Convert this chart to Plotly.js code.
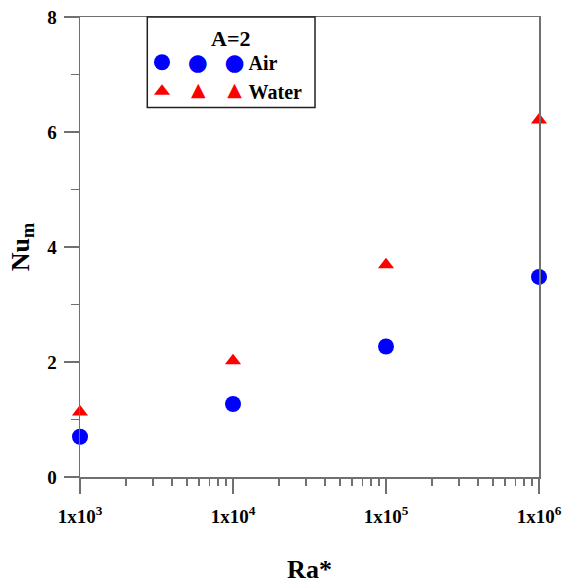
<!DOCTYPE html>
<html>
<head>
<meta charset="utf-8">
<script src="https://cdn.plot.ly/plotly-3.0.1.min.js"></script>
<style>
  html, body { margin: 0; padding: 0; background: #fff; }
  #chart { width: 565px; height: 588px; }
</style>
</head>
<body>
<div id="chart"></div>
<script>
// Modified Rayleigh number and mean Nusselt number, aspect ratio A=2
const raStar = [1e3, 1e4, 1e5, 1e6];
const numAir = [0.70, 1.27, 2.27, 3.48];
const numWater = [1.13, 2.02, 3.69, 6.21];
const xTickVals = [1e3, 1e4, 1e5, 1e6];
const xTickText = ['<b>1x10<sup>3</sup></b>', '<b>1x10<sup>4</sup></b>', '<b>1x10<sup>5</sup></b>', '<b>1x10<sup>6</sup></b>'];
const yTickVals = [0, 2, 4, 6, 8];
const yTickText = ['<b>0</b>', '<b>2</b>', '<b>4</b>', '<b>6</b>', '<b>8</b>'];

const serif = 'Liberation Serif';
const axisGray = '#707070';
const NB = '\u00a0', THIN = '\u2009', HAIR = '\u200a';

// legend rows repeat the symbol three times before the label
const glyph = (ch, color, size, extra) =>
  '<span style="color:' + color + ';font-family:DejaVu Sans;font-size:' + size + 'px' + (extra || '') + '">' + ch + '</span>';

const traces = [
  {
    x: raStar, y: numAir, type: 'scatter', mode: 'markers', cliponaxis: false,
    name: THIN + HAIR + glyph('●', '#0000ff', 23) + NB + NB + NB + HAIR + glyph('●', '#0000ff', 23) + THIN + '<b>Air</b>',
    marker: { symbol: 'circle', size: 16, color: '#0000ff' }
  },
  {
    x: raStar, y: numWater, type: 'scatter', mode: 'markers', cliponaxis: false,
    name: NB + THIN + glyph('▲', '#ff0000', 19, ';baseline-shift:3px') + NB + NB + NB + NB + HAIR +
          glyph('▲', '#ff0000', 19, ';baseline-shift:3px') + NB + HAIR + '<b>Water</b>',
    marker: { symbol: 'triangle-up', size: 14, color: '#ff0000' }
  }
];

const layout = {
  width: 565, height: 588,
  margin: { l: 80, r: 26, t: 17, b: 111 },
  paper_bgcolor: '#ffffff', plot_bgcolor: '#ffffff',
  font: { family: serif, color: '#000', size: 18 },
  showlegend: true,
  legend: {
    x: (142 - 80) / 459, y: 0.944, xanchor: 'left', yanchor: 'top',
    bgcolor: 'rgba(0,0,0,0)', borderwidth: 0,
    font: { family: serif, size: 20, color: '#000' },
    itemwidth: 30
  },
  shapes: [
    // legend frame
    { type: 'rect', xref: 'paper', yref: 'paper', x0: 0.1466, x1: 0.512, y0: 0.803, y1: 1.0,
      line: { color: '#222', width: 1.5 }, fillcolor: 'rgba(0,0,0,0)', layer: 'above' }
  ],
  annotations: [
    { xref: 'paper', yref: 'paper', x: 0.327, y: 0.953, xanchor: 'center', yanchor: 'middle',
      text: '<b>A=2</b>', showarrow: false, borderpad: 0, font: { family: serif, size: 22, color: '#000' } }
  ],
  xaxis: {
    type: 'log', range: [2.99999, 6.00001],
    tickvals: xTickVals, ticktext: xTickText,
    tickfont: { family: serif, size: 19, color: '#000' },
    ticks: 'outside', ticklen: 15, tickwidth: 1.5, tickcolor: axisGray,
    ticklabelstandoff: 7,
    minor: { dtick: 'D1', ticks: 'outside', ticklen: 7, tickwidth: 1.5, tickcolor: axisGray, showgrid: false },
    showline: true, linecolor: axisGray, linewidth: 1.5, mirror: true,
    showgrid: false, zeroline: false,
    title: { text: '<b>Ra*</b>', font: { family: serif, size: 26, color: '#000' }, standoff: 33 }
  },
  yaxis: {
    range: [0, 8], tickvals: yTickVals, ticktext: yTickText,
    tickfont: { family: serif, size: 19, color: '#000' },
    ticks: 'outside', ticklen: 15, tickwidth: 1.5, tickcolor: axisGray,
    ticklabelstandoff: 3,
    minor: { dtick: 1, ticks: 'outside', ticklen: 8, tickwidth: 1.5, tickcolor: axisGray, showgrid: false },
    showline: true, linecolor: axisGray, linewidth: 1.5, mirror: true,
    showgrid: false, zeroline: false,
    title: { text: '<b>Nu<sub>m</sub></b>', font: { family: serif, size: 26, color: '#000' }, standoff: 10 }
  }
};

Plotly.newPlot('chart', traces, layout, { displayModeBar: false, staticPlot: true });
</script>
</body>
</html>
